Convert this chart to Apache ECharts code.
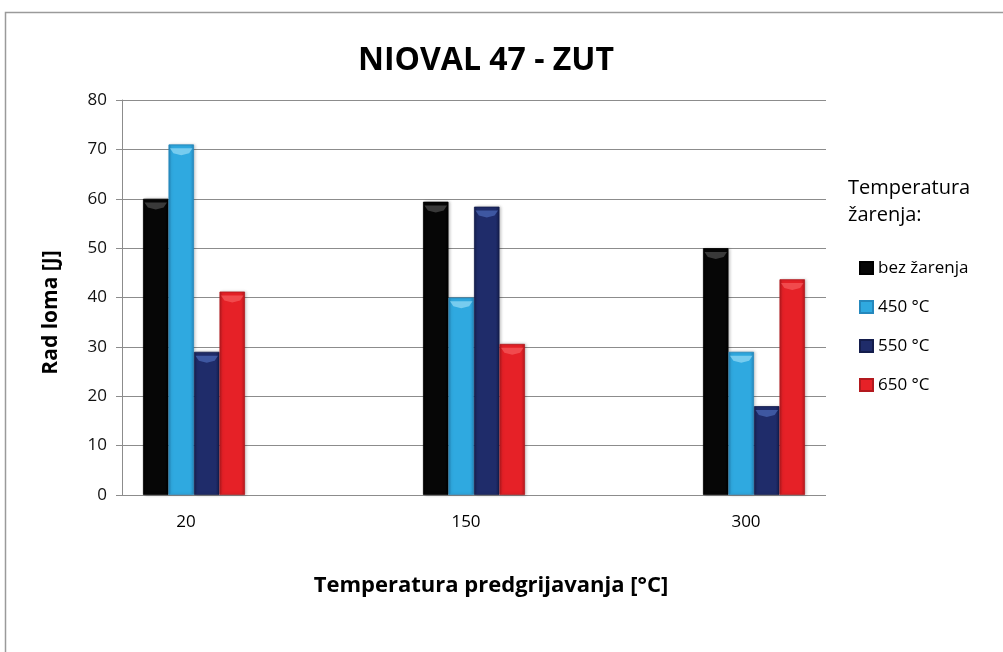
<!DOCTYPE html>
<html>
<head>
<meta charset="utf-8">
<script src="https://cdn.jsdelivr.net/npm/echarts@6/dist/echarts.min.js"></script>
<style>
  html, body { margin: 0; padding: 0; background: #fff; }
  #chart { width: 1003px; height: 652px; }
</style>
</head>
<body>
<div id="chart"></div>
<script>
// Preheating temperatures (x categories)
const categories = ['20', '150', '300'];
// Impact energy per annealing temperature
const bezZarenja = [60, 59.4, 50];
const t450 = [71, 40, 29];
const t550 = [29, 58.4, 18];
const t650 = [41.2, 30.6, 43.7];
const seriesNames = ['bez žarenja', '450 °C', '550 °C', '650 °C'];
const yTicks = { min: 0, max: 80, interval: 10 };

const FONT = '"Open Sans", "Noto Sans", sans-serif';
const baseColors = ['#060606', '#2fa9e0', '#1f2c6a', '#e62127'];
const edgeColors = ['#000000', '#2588bd', '#141d4c', '#b3191e'];
const capColors = ['rgba(80,80,80,0.7)', 'rgba(150,220,245,0.7)', 'rgba(80,110,190,0.65)', 'rgba(250,110,110,0.55)'];

function barFill(i) {
  return new echarts.graphic.LinearGradient(0, 0, 1, 0, [
    { offset: 0, color: edgeColors[i] },
    { offset: 0.12, color: baseColors[i] },
    { offset: 0.85, color: baseColors[i] },
    { offset: 1, color: edgeColors[i] }
  ]);
}

const values = [bezZarenja, t450, t550, t650];
const BAR_W = 25.5;

// Main bars
const bars = values.map((data, i) => ({
  name: seriesNames[i],
  type: 'bar',
  xAxisIndex: 1,
  yAxisIndex: 1,
  barWidth: BAR_W,
  barGap: '0%',
  data: data,
  itemStyle: {
    color: barFill(i),
    borderColor: edgeColors[i],
    borderWidth: 0.8,
    shadowColor: 'rgba(0,0,0,0.22)',
    shadowBlur: 3,
    shadowOffsetX: 1.5
  },
  z: 2
}));

// Bevel highlight sitting at the top of every bar
const caps = values.map((data, i) => ({
  name: seriesNames[i],
  type: 'pictorialBar',
  xAxisIndex: 1,
  yAxisIndex: 1,
  barWidth: BAR_W,
  barGap: '0%',
  data: data,
  symbol: 'path://M0,0 L20,0 L17,5 L10,7 L3,5 Z',
  symbolSize: [BAR_W - 3, 7],
  symbolPosition: 'end',
  symbolOffset: [0, '55%'],
  itemStyle: { color: capColors[i] },
  silent: true,
  z: 3
}));

const chart = echarts.init(document.getElementById('chart'), null, { renderer: 'canvas' });
chart.setOption({
  backgroundColor: '#ffffff',
  animation: false,
  title: [
    {
      text: 'NIOVAL 47 - ZUT',
      left: 481,
      top: 40,
      textAlign: 'center',
      textStyle: { fontFamily: FONT, fontWeight: 'bold', fontSize: 32, color: '#000' }
    },
    {
      text: 'Temperatura\nžarenja:',
      left: 843,
      top: 170,
      textStyle: { fontFamily: FONT, fontWeight: 'normal', fontSize: 20, lineHeight: 27, color: '#000' }
    }
  ],
  legend: {
    data: seriesNames,
    orient: 'vertical',
    left: 854,
    top: 254,
    itemWidth: 13,
    itemHeight: 12,
    itemGap: 21,
    icon: 'rect',
    textStyle: { fontFamily: FONT, fontSize: 17, lineHeight: 18, color: '#000' }
  },
  grid: [
    { left: 122, right: 177, top: 100, bottom: 157, containLabel: false },
    { left: 54, width: 840, top: 100, bottom: 157, containLabel: false }
  ],
  xAxis: [
    {
      type: 'category',
      gridIndex: 0,
      data: categories,
      show: false
    },
    {
      type: 'category',
      gridIndex: 1,
      data: categories,
      axisLine: { show: false },
      axisTick: { show: false },
      axisLabel: { margin: 19, fontFamily: FONT, fontSize: 17, color: '#000', padding: [0, 16, 0, 0] },
      name: 'Temperatura predgrijavanja [°C]',
      nameLocation: 'middle',
      nameGap: 80,
      nameTextStyle: { fontFamily: FONT, fontWeight: 'bold', fontSize: 22, color: '#000', padding: [0, 0, 0, 34] }
    }
  ],
  yAxis: [
    {
      type: 'value',
      gridIndex: 0,
      min: yTicks.min,
      max: yTicks.max,
      interval: yTicks.interval,
      axisLine: { show: true, lineStyle: { color: '#8c8c8c', width: 1 } },
      axisTick: { show: true, length: 6, lineStyle: { color: '#8c8c8c' } },
      axisLabel: { margin: 15, fontFamily: FONT, fontSize: 17, color: '#111' },
      splitLine: { show: true, lineStyle: { color: '#8c8c8c', width: 1 } },
      name: 'Rad loma [J]',
      nameLocation: 'middle',
      nameGap: 60,
      nameTextStyle: { fontFamily: FONT, fontWeight: 'bold', fontSize: 21, color: '#000', padding: [0, 0, 0, -30] }
    },
    {
      type: 'value',
      gridIndex: 1,
      min: yTicks.min,
      max: yTicks.max,
      interval: yTicks.interval,
      show: false
    }
  ],
  graphic: [
    {
      type: 'rect',
      left: 3,
      top: 10,
      shape: { width: 1100, height: 700 },
      style: { fill: 'none', stroke: '#9a9a9a', lineWidth: 1.5 },
      z: 100,
      silent: true
    }
  ],
  series: bars.concat(caps)
});
</script>
</body>
</html>
